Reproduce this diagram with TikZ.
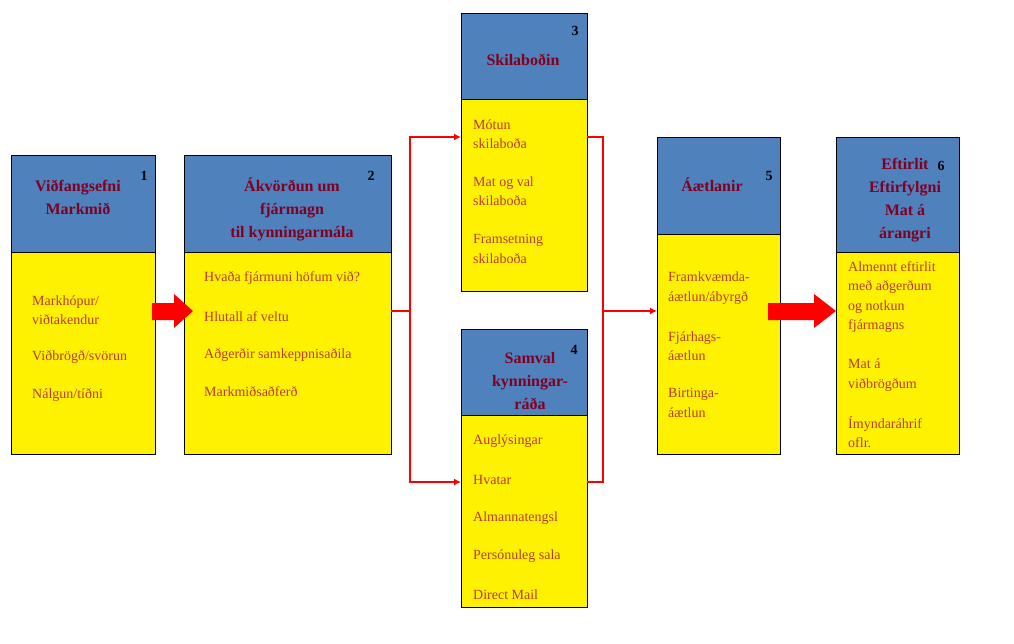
\documentclass[tikz,border=0pt]{standalone}
\usepackage{fontspec}
\usetikzlibrary{arrows.meta}
\setmainfont{Liberation Serif}
\begin{document}
\begin{tikzpicture}[x=1pt,y=-1pt,
  hdr/.style={draw=black,fill=hblue,line width=0.8pt,inner sep=0,outer sep=0,anchor=north west},
  body/.style={draw=black,fill=yellow,line width=0.8pt,inner sep=0,outer sep=0,anchor=north west},
  ht/.style={font=\bfseries\fontsize{16}{23}\selectfont,text=htxt,align=center},
  num/.style={font=\bfseries\fontsize{14}{16}\selectfont},
  it/.style={font=\fontsize{14}{19.5}\selectfont,text=itxt,anchor=west,align=left,inner sep=0},
  rl/.style={draw=red,line width=1.8pt},
  ra/.style={draw=red,line width=1.8pt,-{Latex[length=7pt,width=7pt]}},
  fat/.style={fill=red,draw=none}]
\definecolor{hblue}{RGB}{79,129,189}
\definecolor{htxt}{RGB}{128,0,32}
\definecolor{itxt}{RGB}{185,60,50}
\useasboundingbox (0,0) rectangle (1014,644);
% box 1
\node[hdr,minimum width=144,minimum height=97] (h1) at (11,155) {};
\node[body,minimum width=144,minimum height=202] (b1) at (11,252) {};
\node[ht] (t1) at (78,197) {Viðfangsefni\\Markmið};
\node[num] (n1) at (144,176) {1};
\node[it] (i1) at (32,310) {Markhópur/\\viðtakendur};
\node[it] (i1b) at (32,357) {Viðbrögð/svörun};
\node[it] (i1c) at (32,395) {Nálgun/tíðni};
% box 2
\node[hdr,minimum width=207,minimum height=97] (h2) at (184,155) {};
\node[body,minimum width=207,minimum height=202] (b2) at (184,252) {};
\node[ht] (t2) at (292,209) {Ákvörðun um\\fjármagn\\til kynningarmála};
\node[num] (n2) at (371,176) {2};
\node[it] (i2a) at (204,278) {Hvaða fjármuni höfum við?};
\node[it] (i2b) at (204,317) {Hlutall af veltu};
\node[it] (i2c) at (204,355) {Aðgerðir samkeppnisaðila};
\node[it] (i2d) at (204,392) {Markmiðsaðferð};
% box 3
\node[hdr,minimum width=126,minimum height=86] (h3) at (461,13) {};
\node[body,minimum width=126,minimum height=192] (b3) at (461,99) {};
\node[ht] (t3) at (523,60) {Skilaboðin};
\node[num] (n3) at (575,31) {3};
\node[it] (i3a) at (473,134) {Mótun\\skilaboða};
\node[it] (i3b) at (473,191) {Mat og val\\skilaboða};
\node[it] (i3c) at (473,249) {Framsetning\\skilaboða};
% box 4
\node[hdr,minimum width=126,minimum height=86] (h4) at (461,329) {};
\node[body,minimum width=126,minimum height=192] (b4) at (461,415) {};
\node[ht] (t4) at (530,381) {Samval\\kynningar-\\ráða};
\node[num] (n4) at (574,350) {4};
\node[it] (i4a) at (473,441) {Auglýsingar};
\node[it] (i4b) at (473,480) {Hvatar};
\node[it] (i4c) at (473,518) {Almannatengsl};
\node[it] (i4d) at (473,556) {Persónuleg sala};
\node[it] (i4e) at (473,595) {Direct Mail};
% box 5
\node[hdr,minimum width=123,minimum height=97] (h5) at (657,137) {};
\node[body,minimum width=123,minimum height=220] (b5) at (657,234) {};
\node[ht] (t5) at (712,185) {Áætlanir};
\node[num] (n5) at (769,176) {5};
\node[it] (i5a) at (668,288) {Framkvæmda-\\áætlun/ábyrgð};
\node[it] (i5b) at (668,346) {Fjárhags-\\áætlun};
\node[it] (i5c) at (668,403) {Birtinga-\\áætlun};
% box 6
\node[hdr,minimum width=123,minimum height=115] (h6) at (836,137) {};
\node[body,minimum width=123,minimum height=202] (b6) at (836,252) {};
\node[ht] (t6) at (905,200) {Eftirlit\\Eftirfylgni\\Mat á\\árangri};
\node[num] (n6) at (941,166) {6};
\node[it] (i6a) at (848,297) {Almennt eftirlit\\með aðgerðum\\og notkun\\fjármagns};
\node[it] (i6b) at (848,375) {Mat á\\viðbrögðum};
\node[it] (i6c) at (848,432) {Ímyndaráhrif\\oflr.};
% connectors
\coordinate (s1) at (410,311);
\coordinate (j1) at (603,311);
\draw[rl] (b2.east |- s1) -- (s1);
\draw[ra] (s1) |- (b3.west |- 0,137);
\draw[ra] (s1) |- (b4.west |- 0,482);
\draw[rl] (b3.east |- 0,137) -| (j1);
\draw[rl] (b4.east |- 0,482) -| (j1);
\draw[ra] (j1) -- (b5.west |- j1);
% fat arrows
\fill[fat] (152,303) -- (174,303) -- (174,294) -- (193,311) -- (174,328) -- (174,320) -- (152,320) -- cycle;
\fill[fat] (768,303) -- (814,303) -- (814,294) -- (836,311) -- (814,328) -- (814,320) -- (768,320) -- cycle;
\end{tikzpicture}
\end{document}
